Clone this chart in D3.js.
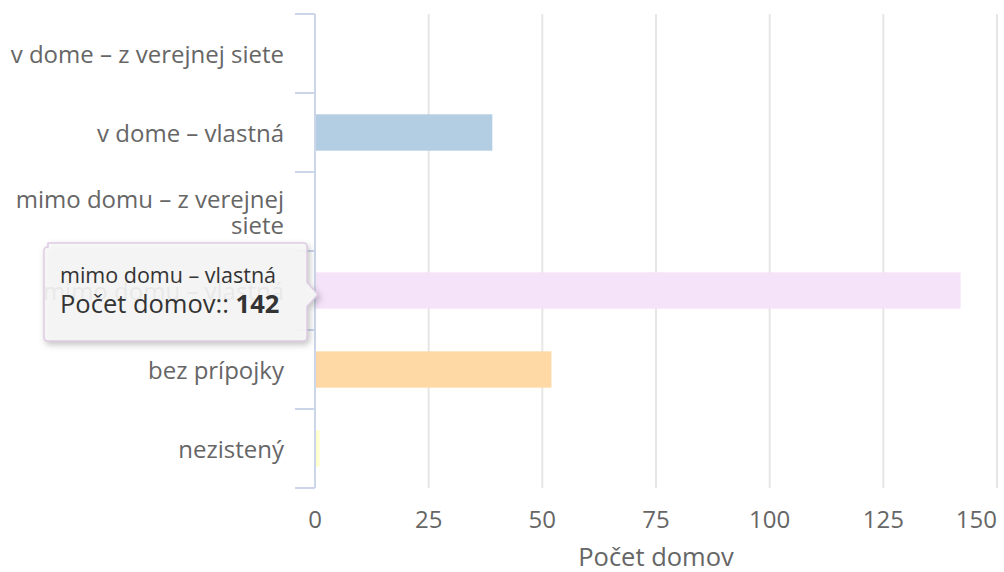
<!DOCTYPE html>
<html>
<head>
<meta charset="utf-8">
<script src="https://cdn.jsdelivr.net/npm/d3@7"></script>
<style>
  html, body { margin: 0; padding: 0; background: #fff; }
  svg { display: block; font-family: "Open Sans", sans-serif; }
</style>
</head>
<body>
<div id="chart"></div>
<script>
// data
var categories = ["v dome – z verejnej siete", "v dome – vlastná", "mimo domu – z verejnej siete",
                  "mimo domu – vlastná", "bez prípojky", "nezistený"]
var values = [0, 39, 0, 142, 52, 1]
var colors = ["#fbb4ae", "#b3cde3", "#ccebc5", "#f5e3fa", "#fed9a6", "#ffffcc"]
var xTicks = [0, 25, 50, 75, 100, 125, 150]
var axisTitle = "Počet domov"
var hovered = 3

var W = 1004, H = 572
var plotL = 315, plotR = 997, plotT = 14, plotB = 488

var svg = d3.select("#chart").append("svg")
  .attr("width", W).attr("height", H)

var x = d3.scaleLinear().domain([0, 150]).range([plotL, plotR])
var y = d3.scaleBand().domain(categories).range([plotT, plotB])
  .paddingInner(0.54).paddingOuter(0.27)

// vertical grid
svg.append("g").selectAll("line").data(xTicks).join("line")
  .attr("x1", d => x(d)).attr("x2", d => x(d))
  .attr("y1", plotT).attr("y2", plotB)
  .attr("stroke", "#e6e6e6").attr("stroke-width", 2)

// x tick labels (last one kept inside the chart)
svg.append("g").selectAll("text").data(xTicks).join("text")
  .attr("x", d => x(d)).attr("y", 528)
  .attr("text-anchor", (d, i) => i == xTicks.length - 1 ? "end" : "middle")
  .attr("fill", "#666").attr("font-size", 24)
  .text(d => d)

svg.append("text")
  .attr("x", (plotL + plotR) / 2).attr("y", 566)
  .attr("text-anchor", "middle")
  .attr("fill", "#666").attr("font-size", 25.5)
  .text(axisTitle)

// bars
svg.append("g").selectAll("rect").data(values).join("rect")
  .attr("x", x(0))
  .attr("y", (d, i) => y(categories[i]))
  .attr("width", d => x(d) - x(0))
  .attr("height", y.bandwidth())
  .attr("fill", (d, i) => colors[i])

// category axis line + ticks
var gap = (y.step() - y.bandwidth()) / 2
var bounds = categories.map(c => y(c) - gap).concat([plotB])
svg.append("line")
  .attr("x1", plotL).attr("x2", plotL).attr("y1", plotT).attr("y2", plotB)
  .attr("stroke", "#ccd6eb").attr("stroke-width", 2)
svg.append("g").selectAll("line").data(bounds).join("line")
  .attr("x1", plotL - 20).attr("x2", plotL)
  .attr("y1", d => d).attr("y2", d => d)
  .attr("stroke", "#ccd6eb").attr("stroke-width", 2)

// category labels (wrapped when long)
var labels = svg.append("g")
categories.forEach(function(c) {
  var cy = y(c) + y.bandwidth() / 2
  var lines = c.length > 25 ? ["mimo domu – z verejnej", "siete"] : [c]
  var t = labels.append("text")
    .attr("text-anchor", "end").attr("fill", "#666").attr("font-size", 24)
  lines.forEach(function(l, k) {
    t.append("tspan").attr("x", 284)
      .attr("y", cy + 9 + (k - (lines.length - 1) / 2) * 26)
      .text(l)
  })
})

// tooltip
var by = y(categories[hovered]) + y.bandwidth() / 2
var tx = 44, tw = 263, ty = 243, th = 94
var tip = svg.append("g")
tip.append("path")
  .attr("d", "M" + (tx + 4) + "," + ty + " h" + (tw - 8) + " q4,0 4,4 v" + (by - ty - 12) +
    " l11,12 l-11,12 v" + (ty + th - by - 16) + " q0,4 -4,4 h" + (-(tw - 8)) +
    " q-4,0 -4,-4 v" + (-(th - 8)) + " q0,-4 4,-4 z")
  .attr("fill", "rgba(248,248,248,0.9)")
  .attr("stroke", "#decbe4").attr("stroke-width", 1.5)
  .style("filter", "drop-shadow(2px 3px 3px rgba(0,0,0,0.25))")
tip.append("text").attr("x", 60).attr("y", 283)
  .attr("fill", "#333").attr("font-size", 21.5)
  .text(categories[hovered])
var t2 = tip.append("text").attr("x", 60).attr("y", 313)
  .attr("fill", "#333").attr("font-size", 25.5)
t2.append("tspan").text(axisTitle + ":: ")
t2.append("tspan").attr("font-weight", "bold").text(values[hovered])
</script>
</body>
</html>
